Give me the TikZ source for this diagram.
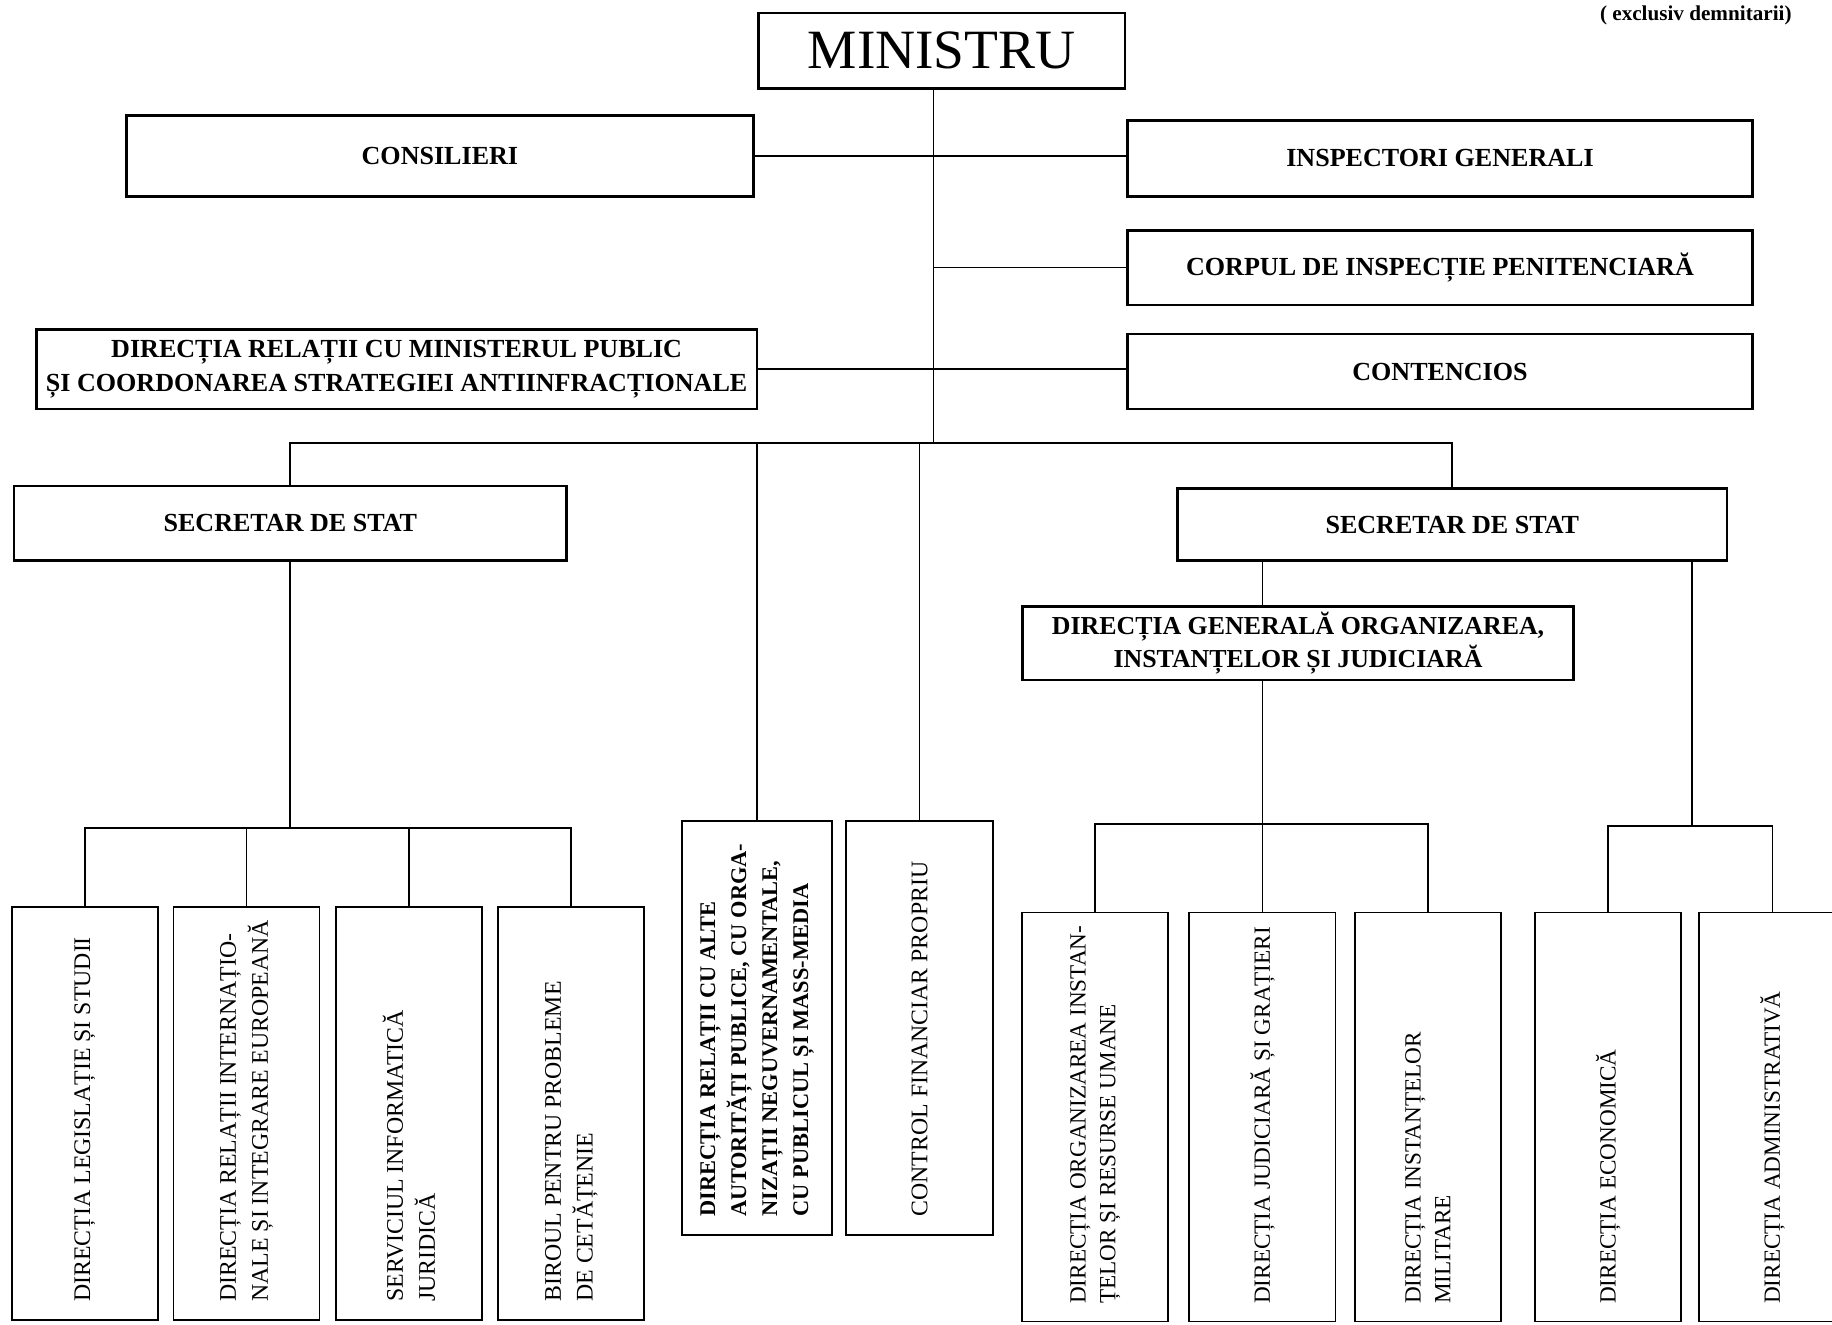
\documentclass[tikz,border=0pt]{standalone}
\usepackage{fontspec}
\setmainfont{Liberation Serif}
\newcommand{\headfont}{\fontsize{12.7}{17}\selectfont\bfseries}
\newcommand{\unitfont}{\fontsize{11.6}{15.5}\selectfont}

\begin{document}
\begin{tikzpicture}[x=0.2mm, y=-0.2mm,
line width=0.9pt,
head/.style={draw, line width=1.3pt, inner sep=0pt, align=center, font=\headfont},
unitbox/.style={draw, inner sep=0pt, minimum width=25mm, minimum height=70.8mm},
unittext/.style={rotate=90, anchor=west, inner sep=0pt, align=left, font=\unitfont}
                        ]
\useasboundingbox (0,0) rectangle (1568,1134);
\clip (0,0) rectangle (1568,1134);

\node (note) [anchor=east, font=\fontsize{10.3}{12}\selectfont\bfseries] at (1540,13) {( exclusiv demnitarii)};
\node (min)  [head, minimum width=62.8mm, minimum height=13mm, font=\fontsize{27}{30}\selectfont] at (806,43.5) {MINISTRU};
\node (cons) [head, minimum width=107.4mm, minimum height=13.8mm] at (376.5,133.5) {CONSILIERI};
\node (insp) [head, minimum width=107mm, minimum height=13mm]   at (1232.5,135.5) {INSPECTORI GENERALI};
\node (corp) [head, minimum width=107mm, minimum height=12.8mm] at (1232.5,229) {CORPUL DE INSPECȚIE PENITENCIARĂ};
\node (drmp) [head, minimum width=123.4mm, minimum height=13.6mm] at (339.5,316)
      {DIRECȚIA RELAȚII CU MINISTERUL PUBLIC\\ȘI COORDONAREA STRATEGIEI ANTIINFRACȚIONALE};
\node (cont) [head, minimum width=107mm, minimum height=12.8mm] at (1232.5,318) {CONTENCIOS};
\node (secL) [head, minimum width=94.6mm, minimum height=12.8mm] at (248.5,448) {SECRETAR DE STAT};
\node (secR) [head, minimum width=94mm, minimum height=12.4mm]  at (1243,449) {SECRETAR DE STAT};
\node (dgo)  [head, minimum width=94.4mm, minimum height=12.6mm, font=\fontsize{12.6}{16}\selectfont\bfseries] at (1111,550.5)
      {DIRECȚIA GENERALĂ ORGANIZAREA,\\INSTANȚELOR ȘI JUDICIARĂ};

%
\foreach \x/\t [count=\i from 1] in {72.6/{DIRECȚIA LEGISLAȚIE ȘI STUDII},
    211/{DIRECȚIA RELAȚII INTERNAȚIO-\\NALE ȘI INTEGRARE EUROPEANĂ},
    350/{SERVICIUL INFORMATICĂ\\JURIDICĂ},
    489/{BIROUL PENTRU PROBLEME\\DE CETĂȚENIE}}
{
\node (l\i) [unitbox] at (\x,953) {};
\node (l\i t) [unittext] at ([yshift=3.2mm]l\i.south) {\t};
}

\node (relA) [unitbox, minimum width=25.6mm] at (648,880) {};
\node (relAt) [unittext, font=\fontsize{10.9}{15.1}\selectfont\bfseries] at ([yshift=3.2mm]relA.south)
      {DIRECȚIA RELAȚII CU ALTE\\AUTORITĂȚI PUBLICE, CU ORGA-\\NIZAȚII NEGUVERNAMENTALE,\\CU PUBLICUL ȘI MASS-MEDIA};
\node (cfp)  [unitbox, minimum width=25.2mm] at (787,880) {};
\node (cfpt) [unittext] at ([yshift=3.2mm]cfp.south) {CONTROL FINANCIAR PROPRIU};

\foreach \x/\t [count=\i from 1] in {937.5/{DIRECȚIA ORGANIZAREA INSTAN-\\ȚELOR ȘI RESURSE UMANE},
    1080.5/{DIRECȚIA JUDICIARĂ ȘI GRAȚIERI},
    1222/{DIRECȚIA INSTANȚELOR\\MILITARE}}
{
\node (r\i) [unitbox, minimum height=70mm] at (\x,956) {};
\node (r\i t) [unittext, font=\fontsize{11.3}{14.5}\selectfont] at ([yshift=3mm]r\i.south) {\t};
}

\foreach \x/\t [count=\i from 1] in {1376.5/{DIRECȚIA ECONOMICĂ}, 1517/{DIRECȚIA ADMINISTRATIVĂ}}
{
\node (e\i) [unitbox, minimum height=70mm] at (\x,956) {};
\node (e\i t) [unittext, font=\fontsize{11.3}{14.5}\selectfont] at ([yshift=3mm]e\i.south) {\t};
}

%
\coordinate (spine) at (799,379);
\coordinate (jL) at (248.5,709);
\coordinate (jR) at (1080.5,705);
\coordinate (jE) at (1448,707);

\draw (min.south -| spine) -- (spine);
\draw (cons.east) -- (cons.east -| insp.west);
\draw (corp.west) -- (corp.west -| spine);
\draw (drmp.east) -- (drmp.east -| cont.west);
\draw (secL.north) -- (secL.north |- spine) -- (secR.north |- spine) -- (secR.north);
\draw (relA.north |- spine) -- (relA.north);
\draw (cfp.north |- spine) -- (cfp.north);

\draw (secL.south) -- (jL);
\draw (l1.north) -- (l1.north |- jL) -- (l4.north |- jL) -- (l4.north);
\foreach \i in {2,3}
  \draw (l\i.north |- jL) -- (l\i.north);

\draw (secR.south -| jR) -- (dgo.north -| jR);
\draw (dgo.south -| jR) -- (r2.north);
\draw (r1.north) -- (r1.north |- jR) -- (r3.north |- jR) -- (r3.north);

\draw (secR.south -| jE) -- (jE);
\draw (e1.north) -- (e1.north |- jE) -- (e2.north |- jE) -- (e2.north);
\end{tikzpicture}
\end{document}
